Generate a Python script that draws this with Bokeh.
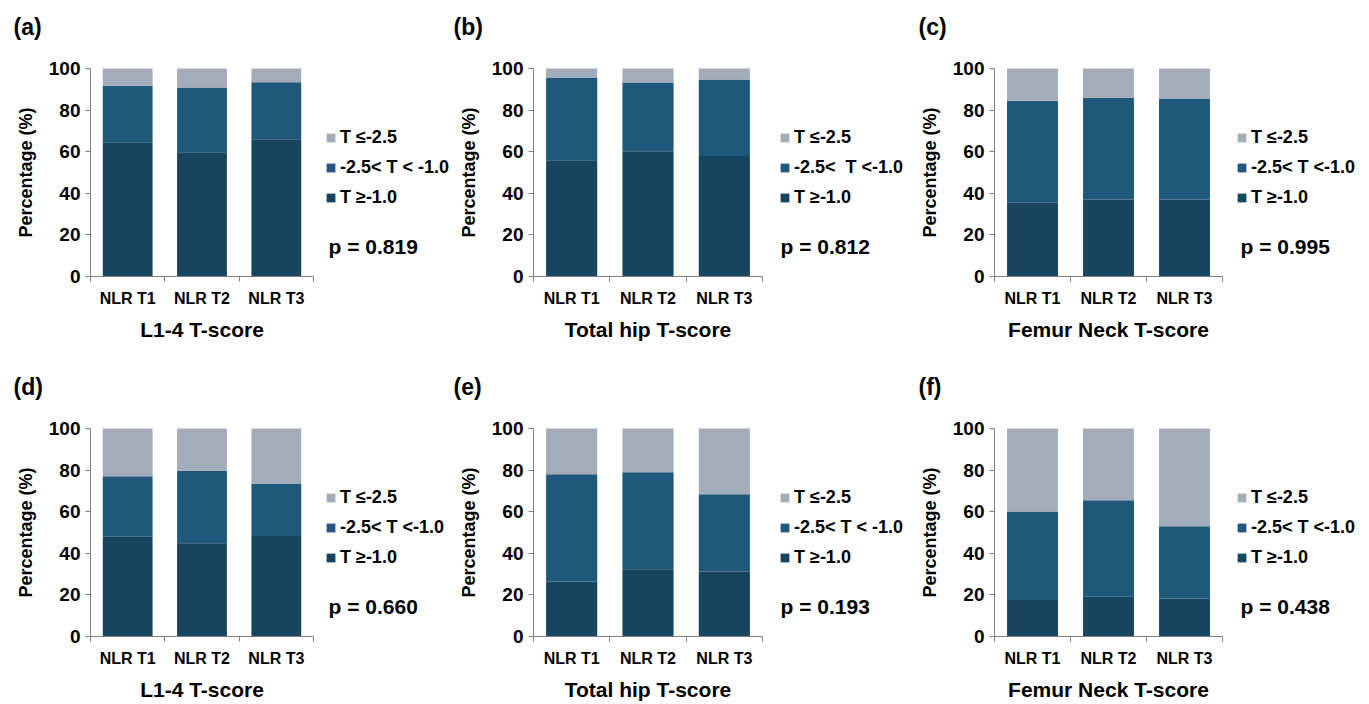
from bokeh.plotting import figure
from bokeh.models import (ColumnDataSource, Range1d, FixedTicker, Legend, LegendItem, Label)
from bokeh.layouts import column, row
from bokeh.embed import file_html
from bokeh.resources import INLINE

# ---------------- data ----------------
categories = ["NLR T1", "NLR T2", "NLR T3"]
panel_letters = ["(a)", "(b)", "(c)", "(d)", "(e)", "(f)"]
x_titles = ["L1-4 T-score", "Total hip T-score", "Femur Neck T-score",
            "L1-4 T-score", "Total hip T-score", "Femur Neck T-score"]
p_values = ["p = 0.819", "p = 0.812", "p = 0.995", "p = 0.660", "p = 0.193", "p = 0.438"]

# percentage in each class (T >= -1.0, -2.5 < T < -1.0, T <= -2.5)
normal_a = [64.5, 59.7, 66.0]
osteopenia_a = [27.2, 31.2, 27.4]
osteoporosis_a = [8.3, 9.1, 6.6]

normal_b = [55.9, 60.0, 57.9]
osteopenia_b = [39.8, 33.3, 36.8]
osteoporosis_b = [4.3, 6.7, 5.3]

normal_c = [35.4, 37.0, 37.0]
osteopenia_c = [49.1, 48.9, 48.3]
osteoporosis_c = [15.5, 14.1, 14.7]

normal_d = [48.0, 44.8, 48.3]
osteopenia_d = [29.1, 34.9, 25.3]
osteoporosis_d = [22.9, 20.3, 26.4]

normal_e = [26.5, 32.3, 31.3]
osteopenia_e = [51.5, 46.7, 37.1]
osteoporosis_e = [22.0, 21.0, 31.6]

normal_f = [17.5, 19.1, 18.3]
osteopenia_f = [42.6, 46.4, 34.7]
osteoporosis_f = [39.9, 34.5, 47.0]

legend_low = ["T \u2264-2.5"] * 6
legend_mid = ["-2.5< T < -1.0", "-2.5<  T <-1.0", "-2.5< T <-1.0",
              "-2.5< T <-1.0", "-2.5< T < -1.0", "-2.5< T <-1.0"]
legend_high = ["T \u2265-1.0"] * 6

y_ticks = [0, 20, 40, 60, 80, 100]

data_sets = [
    (normal_a, osteopenia_a, osteoporosis_a),
    (normal_b, osteopenia_b, osteoporosis_b),
    (normal_c, osteopenia_c, osteoporosis_c),
    (normal_d, osteopenia_d, osteoporosis_d),
    (normal_e, osteopenia_e, osteoporosis_e),
    (normal_f, osteopenia_f, osteoporosis_f),
]

# ---------------- style / layout ----------------
FONT = "Liberation Sans"
C_DARK = "#17445F"
C_MID = "#1F587A"
C_GRAY = "#A3ACB9"
AXIS_C = "#808080"

# columns: figure width, plot-area left/right (px inside figure), offsets
col_layout = [
    dict(W=451, left=90, right=313, leg_dx=12, p_dx=15, lab_dx=-77),
    dict(W=459, left=82, right=311, leg_dx=17, p_dx=18, lab_dx=-80),
    dict(W=458, left=84, right=312, leg_dx=14, p_dx=18, lab_dx=-76),
]
row_layout = [
    dict(H=356, top=68, bottom=276),
    dict(H=347, top=72, bottom=280),
]


def make_panel(i):
    r, c = divmod(i, 3)
    cl = col_layout[c]
    rl = row_layout[r]
    W, H = cl["W"], rl["H"]
    upx = (cl["right"] - cl["left"]) / 3.0
    vpx = (rl["bottom"] - rl["top"]) / 100.0
    xr = Range1d(-cl["left"] / upx, 3 + (W - cl["right"]) / upx)
    yr = Range1d(-(H - rl["bottom"]) / vpx, 100 + rl["top"] / vpx)

    p = figure(width=W, height=H, output_backend="svg", toolbar_location=None,
               x_range=xr, y_range=yr,
               min_border_left=0, min_border_right=0, min_border_top=0, min_border_bottom=0,
               background_fill_color="white", border_fill_color="white")
    p.outline_line_color = None
    p.grid.visible = False

    normal, penia, porosis = data_sets[i]
    src = ColumnDataSource(dict(x=[k + 0.5 for k in range(len(categories))],
                                normal=normal, penia=penia, porosis=porosis))
    rs = p.vbar_stack(["normal", "penia", "porosis"], x="x", width=0.67, source=src,
                      color=[C_DARK, C_MID, C_GRAY], line_color=None)

    # axes
    ya = p.yaxis[0]
    ya.fixed_location = 0
    ya.bounds = (0, 100)
    ya.ticker = FixedTicker(ticks=y_ticks)
    ya.axis_line_color = AXIS_C
    ya.major_tick_line_color = AXIS_C
    ya.major_tick_out = 5
    ya.major_tick_in = 0
    ya.minor_tick_line_color = None
    ya.major_label_text_font = FONT
    ya.major_label_text_font_style = "bold"
    ya.major_label_text_font_size = "19px"
    ya.major_label_text_color = "black"
    ya.major_label_standoff = 5
    ya.axis_label = "Percentage (%)"
    ya.axis_label_text_font = FONT
    ya.axis_label_text_font_style = "bold"
    ya.axis_label_text_font_size = "18px"
    ya.axis_label_text_color = "black"
    ya.axis_label_standoff = 10

    xa = p.xaxis[0]
    xa.fixed_location = 0
    xa.bounds = (0, 3)
    xa.ticker = FixedTicker(ticks=[k + 0.5 for k in range(len(categories))],
                            minor_ticks=list(range(len(categories) + 1)))
    xa.major_label_overrides = {k + 0.5: cat for k, cat in enumerate(categories)}
    xa.axis_line_color = AXIS_C
    xa.major_tick_line_color = None
    xa.major_tick_out = 0
    xa.major_tick_in = 0
    xa.minor_tick_line_color = AXIS_C
    xa.minor_tick_out = 5
    xa.minor_tick_in = 0
    xa.major_label_text_font = FONT
    xa.major_label_text_font_style = "bold"
    xa.major_label_text_font_size = "16px"
    xa.major_label_text_color = "black"
    xa.major_label_standoff = 8
    xa.axis_label = x_titles[i]
    xa.axis_label_text_font = FONT
    xa.axis_label_text_font_style = "bold"
    xa.axis_label_text_font_size = "21px"
    xa.axis_label_text_color = "black"
    xa.axis_label_standoff = 8

    # legend
    items = [LegendItem(label=legend_low[i], renderers=[rs[2]]),
             LegendItem(label=legend_mid[i], renderers=[rs[1]]),
             LegendItem(label=legend_high[i], renderers=[rs[0]])]
    leg = Legend(items=items,
                 location=(cl["right"] + cl["leg_dx"], H - rl["top"] - 62 - 78),
                 glyph_width=11, glyph_height=11, label_height=20, spacing=9,
                 padding=0, margin=0, border_line_color=None, background_fill_alpha=0,
                 label_standoff=4, label_text_font=FONT, label_text_font_style="bold",
                 label_text_font_size="18px", label_text_color="black")
    p.add_layout(leg)

    # p-value
    p.add_layout(Label(x=3, y=0, x_offset=cl["p_dx"], y_offset=30, text=p_values[i],
                       text_font=FONT, text_font_style="bold", text_font_size="21px",
                       text_baseline="middle", text_align="left", text_color="black"))
    # panel letter
    p.add_layout(Label(x=0, y=100, x_offset=cl["lab_dx"], y_offset=42, text=panel_letters[i],
                       text_font=FONT, text_font_style="bold", text_font_size="23px",
                       text_baseline="middle", text_align="left", text_color="black"))
    return p


panels = [make_panel(i) for i in range(6)]
layout = column(row(*panels[:3]), row(*panels[3:]))

open("out.html", "w").write(file_html(layout, INLINE))
